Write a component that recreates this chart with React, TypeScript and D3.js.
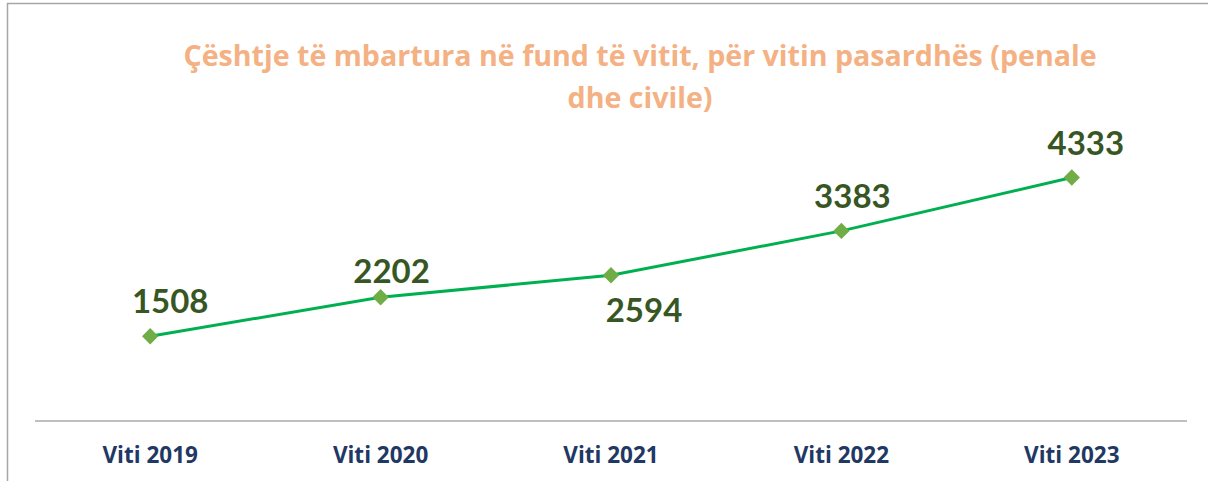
import React from "react";
import * as d3 from "d3";

const categories = ["Viti 2019", "Viti 2020", "Viti 2021", "Viti 2022", "Viti 2023"];
const values = [1508, 2202, 2594, 3383, 4333];
const titleLines = [
  "Çështje të mbartura në fund të vitit, për vitin pasardhës (penale",
  "dhe civile)",
];

// label placement (style), relative to the point
const labelDx = [20, 11, 33, 11, 14];
const labelDy = [-23, -14, 47, -23, -22];

const W = 1208;
const H = 481;
const LATO = "Lato, 'Open Sans', sans-serif";
const OPEN = "'Open Sans', Lato, sans-serif";

export default function App() {
  const x = d3.scaleBand<string>().domain(categories).range([35, 1187]).padding(0);
  const y = d3.scaleLinear().domain([0, 5000]).range([421, 140]);
  const cx = (c: string) => (x(c) as number) + x.bandwidth() / 2;

  const line = d3
    .line<number>()
    .x((_, i) => cx(categories[i]))
    .y((d) => y(d));

  const diamond = d3.symbol().type(d3.symbolDiamond2).size(170)();

  return (
    <svg
      width={W}
      height={H}
      style={{ position: "absolute", left: 0, top: 0, background: "#fff" }}
    >
      <rect x={0} y={0} width={W} height={H} fill="#fff" />
      <rect x={7.5} y={3.5} width={W + 20} height={H + 20} fill="none" stroke="#a6a6a6" strokeWidth={1.5} />

      {titleLines.map((t, i) => (
        <text
          key={i}
          x={640}
          y={66 + i * 42}
          textAnchor="middle"
          fontFamily={OPEN}
          fontWeight="bold"
          fontSize={28.6}
          fill="#F4B183"
        >
          {t}
        </text>
      ))}

      <line x1={35} x2={1187} y1={421} y2={421} stroke="#bfbfbf" strokeWidth={2} />

      {categories.map((c) => (
        <text
          key={c}
          x={cx(c)}
          y={463}
          textAnchor="middle"
          fontFamily={OPEN}
          fontWeight="bold"
          fontSize={22.5}
          fill="#1F3864"
        >
          {c}
        </text>
      ))}

      <path d={line(values) || ""} fill="none" stroke="#00B050" strokeWidth={3} />

      {values.map((v, i) => (
        <path
          key={"m" + i}
          d={diamond || ""}
          transform={`translate(${cx(categories[i])},${y(v)})`}
          fill="#70AD47"
        />
      ))}

      {values.map((v, i) => (
        <text
          key={"l" + i}
          x={cx(categories[i]) + labelDx[i]}
          y={y(v) + labelDy[i]}
          textAnchor="middle"
          fontFamily={LATO}
          fontWeight="bold"
          fontSize={33}
          fill="#375623"
        >
          {v}
        </text>
      ))}
    </svg>
  );
}
